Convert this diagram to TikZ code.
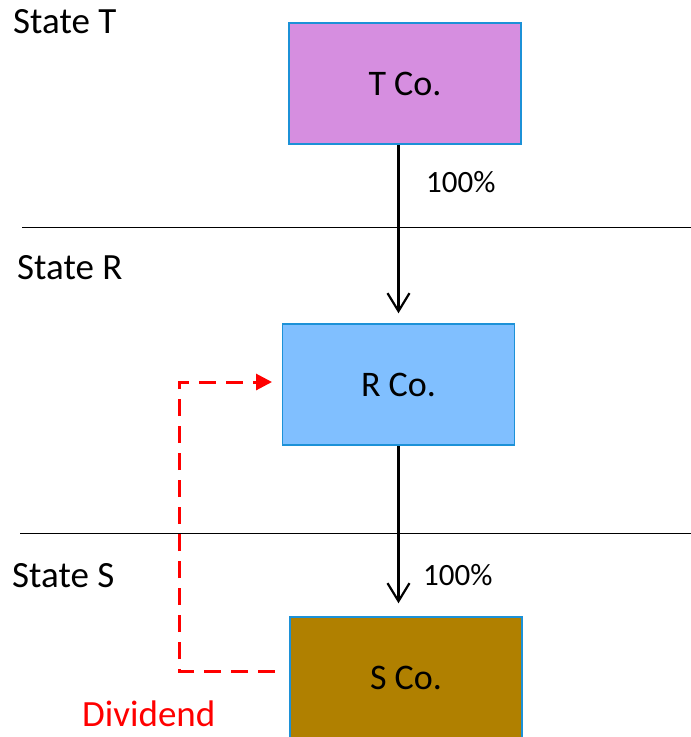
\documentclass[tikz,border=0pt]{standalone}
\usepackage{fontspec}
\setmainfont{Carlito}
\usetikzlibrary{positioning,arrows.meta}

\definecolor{tfill}{RGB}{214,142,224}
\definecolor{rfill}{RGB}{128,191,255}
\definecolor{sfill}{RGB}{176,128,0}
\definecolor{boxline}{RGB}{28,145,215}

\tikzset{
  company/.style={draw=boxline,line width=1.5pt,minimum width=232pt,minimum height=121pt,
    font=\fontsize{36}{40}\selectfont},
  statelabel/.style={anchor=west,inner sep=0pt,font=\fontsize{37}{40}\selectfont},
  share/.style={anchor=west,inner sep=0pt,font=\fontsize{31}{34}\selectfont},
  owns/.style={line width=2.2pt,-{Straight Barb[length=18pt,width=22pt,line width=2.2pt]}},
  payment/.style={red,line width=3pt,dash pattern=on 17pt off 10pt,-{Triangle[length=16pt,width=16pt]}},
  border/.style={line width=1pt}
}

\begin{document}
\begin{tikzpicture}[x=1pt,y=-1pt]

  \useasboundingbox (0,0) rectangle (691,737);

  \node[company,fill=tfill] (tco) at (405,83.5) {T Co.};
  \node[company,fill=rfill] (rco) at (398.5,384.5) {R Co.};
  \node[company,fill=sfill] (sco) at (406,677.5) {S Co.};

  \node[statelabel] (st) at (13,22) {State T};
  \node[statelabel] (sr) at (17,268) {State R};
  \node[statelabel] (ss) at (12,576) {State S};

  \node[share] (p1) at (426,182) {100\%};
  \node[share] (p2) at (423,575) {100\%};
  \node[statelabel,red] (div) at (82,714) {Dividend};

  % state borders
  \coordinate (b1a) at (22,227);
  \coordinate (b1b) at (691,227);
  \coordinate (b2a) at (20,533);
  \coordinate (b2b) at (691,533);
  \draw[border] (b1a) -- (b1b);
  \draw[border] (b2a) -- (b2b);

  % shareholdings
  \draw[owns,shorten >=10pt] (tco.south -| rco.north) -- (rco.north);
  \draw[owns,shorten >=13pt] (rco.south) -- (rco.south |- sco.north);

  % dividend
  \coordinate (dstart) at (275,671);
  \coordinate (dleft) at (179,500);
  \coordinate (dend) at (272,382);
  \draw[payment] (dstart) -| (dleft) |- (dend);

\end{tikzpicture}
\end{document}
